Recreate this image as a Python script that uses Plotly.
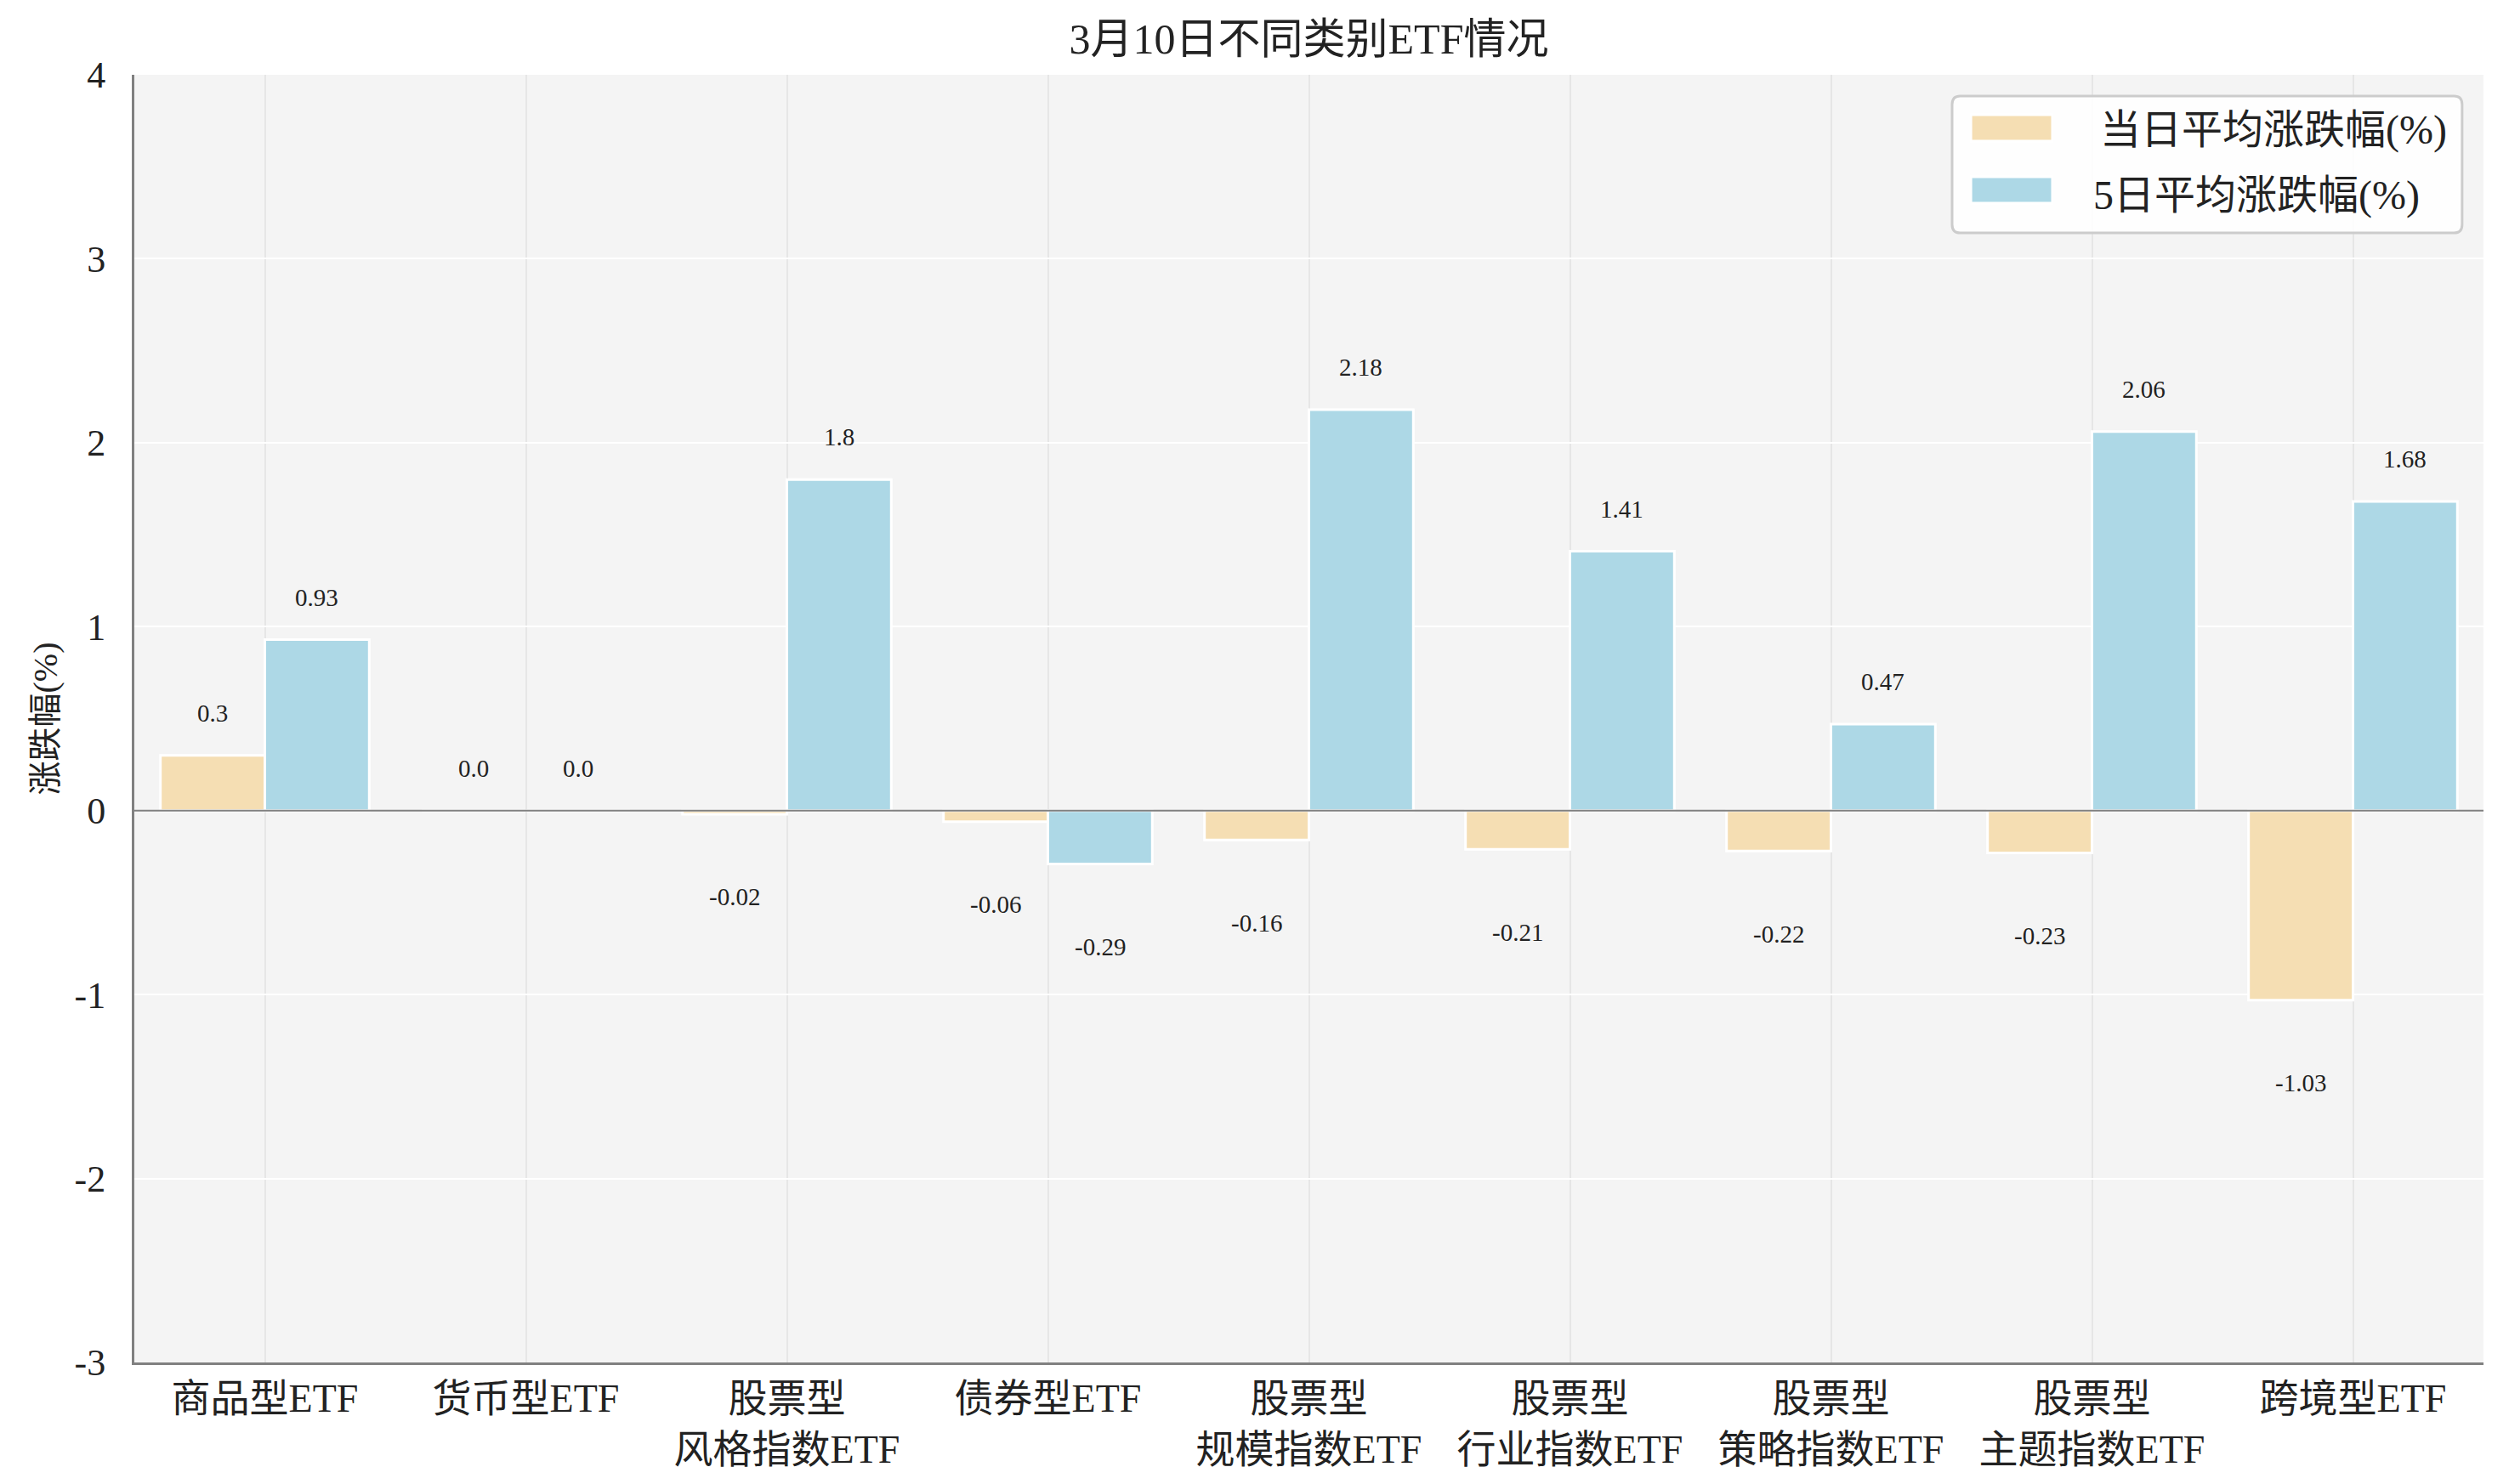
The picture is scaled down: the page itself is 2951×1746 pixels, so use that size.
import plotly.graph_objects as go

categories = ["商品型ETF", "货币型ETF", "股票型<br>风格指数ETF", "债券型ETF", "股票型<br>规模指数ETF",
              "股票型<br>行业指数ETF", "股票型<br>策略指数ETF", "股票型<br>主题指数ETF", "跨境型ETF"]
day_change = [0.3, 0.0, -0.02, -0.06, -0.16, -0.21, -0.22, -0.23, -1.03]
five_day_change = [0.93, 0.0, 1.8, -0.29, 2.18, 1.41, 0.47, 2.06, 1.68]
series_names = ["当日平均涨跌幅(%)", "5日平均涨跌幅(%)"]
y_ticks = [-3, -2, -1, 0, 1, 2, 3, 4]

FONT = "Liberation Serif, Noto Sans CJK SC, serif"
colors = ["#F5DEB3", "#ADD8E6"]

x_idx = list(range(len(categories)))
fig = go.Figure()
for name, vals, col in zip(series_names, [day_change, five_day_change], colors):
    fig.add_trace(go.Bar(x=x_idx, y=vals, name=name, showlegend=False,
                         marker=dict(color=col, line=dict(color="white", width=3))))

annotations = []
for offset, vals in [(-0.2, day_change), (0.2, five_day_change)]:
    for i, v in enumerate(vals):
        ypos = v + 0.23 if v >= 0 else v - 0.45
        annotations.append(dict(x=i + offset, y=ypos, xref="x", yref="y", text=str(v), showarrow=False,
                                font=dict(family=FONT, size=29, color="#222"), xanchor="center", yanchor="middle"))

# custom legend (paper coordinates of the plot area)
lx0, lx1, ly0, ly1 = 0.7738, 0.9909, 0.8772, 0.9835
rx, ry = 0.0035, 0.0065
legend_path = (f"M{lx0+rx},{ly0} L{lx1-rx},{ly0} Q{lx1},{ly0} {lx1},{ly0+ry} L{lx1},{ly1-ry} "
               f"Q{lx1},{ly1} {lx1-rx},{ly1} L{lx0+rx},{ly1} Q{lx0},{ly1} {lx0},{ly1-ry} "
               f"L{lx0},{ly0+ry} Q{lx0},{ly0} {lx0+rx},{ly0} Z")
shapes = [
    dict(type="path", xref="paper", yref="paper", path=legend_path, fillcolor="rgba(255,255,255,0.85)",
         line=dict(color="#cccccc", width=3), layer="above"),
    dict(type="line", xref="paper", yref="y", x0=0, x1=1, y0=0, y1=0,
         line=dict(color="#808080", width=2), layer="above"),
]
swatch_y = [(0.9485, 0.9690), (0.9003, 0.9208)]
text_pos = [(0.8360, 0.9571), (0.8331, 0.9063)]
for (sy0, sy1), (tx, ty), name, col in zip(swatch_y, text_pos, series_names, colors):
    shapes.append(dict(type="rect", xref="paper", yref="paper", x0=0.7818, x1=0.8165, y0=sy0, y1=sy1,
                       fillcolor=col, line=dict(color="white", width=3), layer="above"))
    annotations.append(dict(x=tx, y=ty, xref="paper", yref="paper", text=name, showarrow=False,
                            xanchor="left", yanchor="middle", font=dict(family=FONT, size=48, color="#222")))

fig.update_layout(
    width=2951, height=1746,
    margin=dict(l=158, r=30, t=88, b=143),
    paper_bgcolor="white", plot_bgcolor="#f4f4f4",
    barmode="group", bargap=0.2, bargroupgap=0,
    font=dict(family=FONT, size=46, color="#222"),
    title=dict(text="3月10日不同类别ETF情况", x=0.5, xref="paper", xanchor="center", y=1 - 45 / 1746,
               yanchor="middle", yref="container", font=dict(size=50, color="#222")),
    annotations=annotations,
    shapes=shapes,
    showlegend=False,
)
fig.update_xaxes(range=[-0.5, 8.5], tickmode="array", tickvals=x_idx, ticktext=categories,
                 showgrid=True, gridcolor="#e6e6e6", gridwidth=2, showline=True, linecolor="#808080", linewidth=3,
                 ticks="", tickfont=dict(size=46), zeroline=False)
fig.update_yaxes(range=[-3, 4], tickmode="array", tickvals=y_ticks, ticktext=[str(t) for t in y_ticks],
                 showgrid=True, gridcolor="white", gridwidth=2, showline=True, linecolor="#808080", linewidth=3,
                 zeroline=False, ticks="", ticklabelstandoff=22,
                 title=dict(text="涨跌幅(%)", standoff=8, font=dict(size=40)), tickfont=dict(size=44))

fig.write_html("out.html")
